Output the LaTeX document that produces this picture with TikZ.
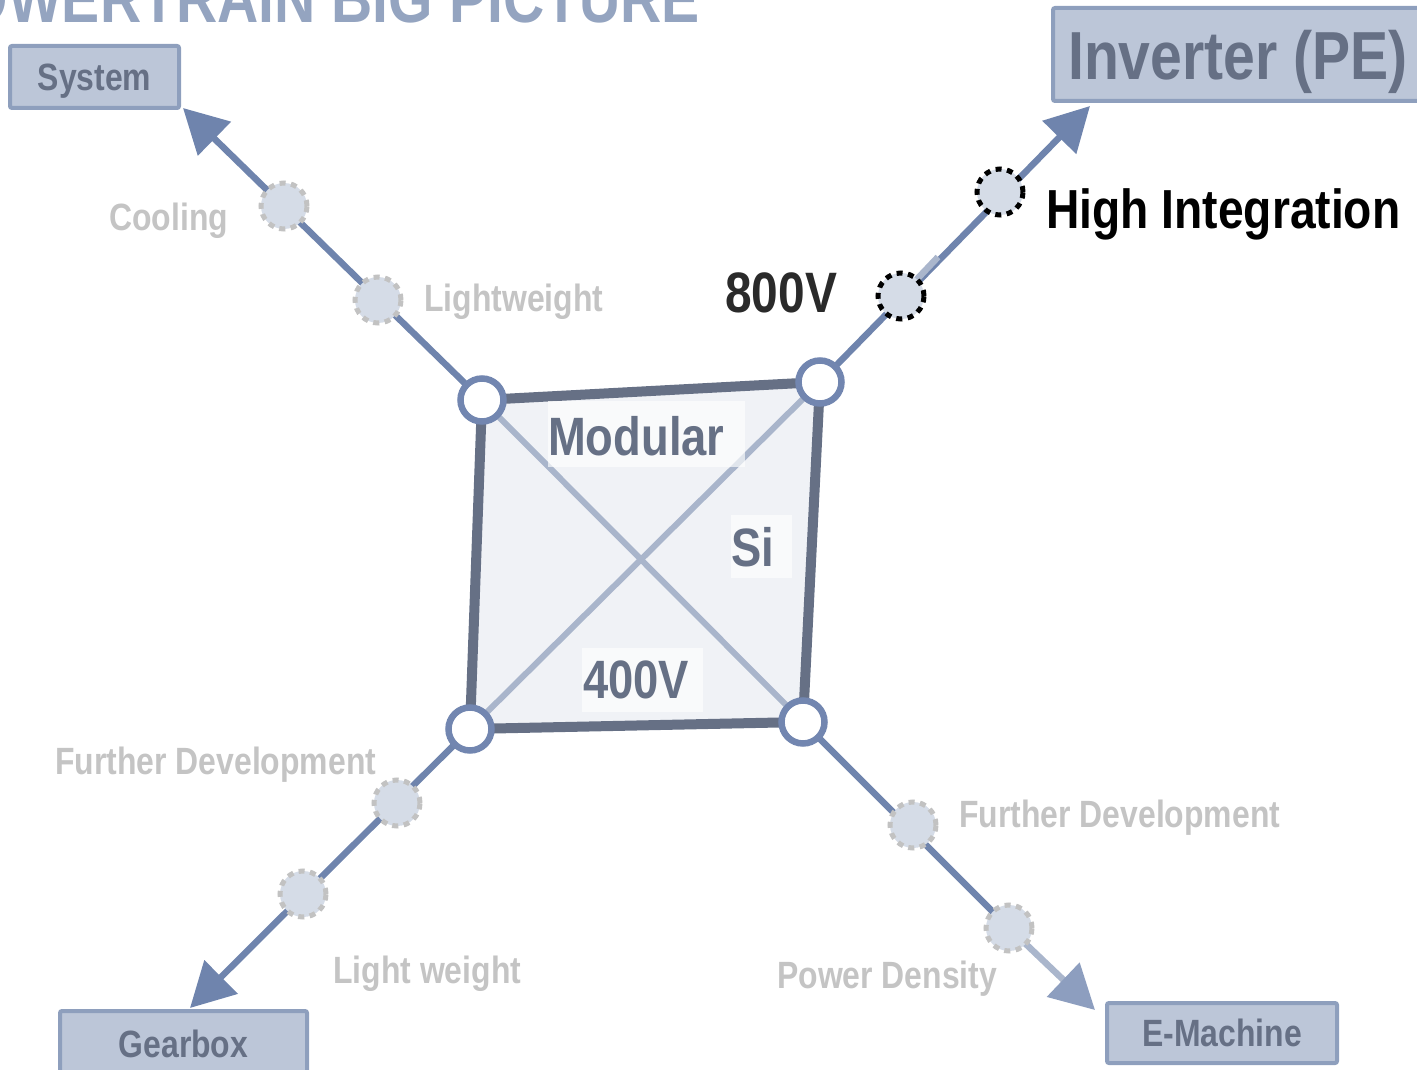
\documentclass[tikz,border=0pt]{standalone}
\usepackage{fontspec}
\setmainfont{Liberation Sans}[FakeStretch=0.84]
\usetikzlibrary{arrows.meta}
\definecolor{slate}{HTML}{667085}
\definecolor{armc}{HTML}{6F84AD}
\definecolor{ringc}{HTML}{7286B0}
\definecolor{boxfill}{HTML}{BCC6D8}
\definecolor{boxline}{HTML}{8E9FBD}
\definecolor{titlec}{HTML}{94A4C0}
\definecolor{dotfill}{HTML}{D5DCE7}
\definecolor{dashc}{HTML}{C2C2C2}
\definecolor{labc}{HTML}{C4C4C4}
\definecolor{diagc}{HTML}{A9B5CB}
\definecolor{sqfill}{HTML}{F0F2F6}
\definecolor{lightarm}{HTML}{AAB6CC}
\definecolor{midarm}{HTML}{8D9EBF}
\definecolor{darktxt}{HTML}{2A2A2A}
\begin{document}
\begin{tikzpicture}[x=1pt,y=-1pt,
  txt/.style={inner sep=0pt,anchor=base west,font=\bfseries\fontsize{#1}{#1}\selectfont},
  arm/.style={draw=armc,line width=6.5pt},
  tipstyle/.style={-{Triangle[length=44pt,width=46pt]}},
  corner/.style={circle,draw=ringc,line width=6.5pt,fill=white,minimum size=43pt,inner sep=0pt},
  dashdot/.style={circle,draw=dashc,line width=5pt,fill=dotfill,minimum size=46pt,inner sep=0pt,dash pattern=on 6pt off 5.5pt},
  blackdot/.style={circle,draw=black,line width=5pt,fill=dotfill,minimum size=46pt,inner sep=0pt,dash pattern=on 6pt off 5.5pt},
  tbox/.style={draw=boxline,line width=4pt,fill=boxfill,rounded corners=2pt,inner sep=0pt,text=slate,text depth=0pt,font=\bfseries\fontsize{38}{38}\selectfont},
  lab/.style={txt=38,text=labc},
  inlab/.style={txt=54,text=slate}
]
\useasboundingbox (0,0) rectangle (1417,1070);
\clip (0,0) rectangle (1417,1070);

% title (clipped)
\node[inner sep=0pt,anchor=base east,text=titlec,font=\bfseries\fontsize{68}{68}\selectfont] (title) at (700,23) {POWERTRAIN BIG PICTURE};

% boxes
\node[tbox,minimum width=169pt,minimum height=62pt] (system) at (94.5,77) {System};
\node[tbox,minimum width=370pt,minimum height=93pt,font=\bfseries\fontsize{68}{68}\selectfont] (inverter) at (1238,54.5) {Inverter (PE)};
\node[tbox,minimum width=247pt,minimum height=66pt] (gearbox) at (183.5,1044) {Gearbox};
\node[tbox,minimum width=230pt,minimum height=60pt] (emachine) at (1222,1033) {E-Machine};

% corner coordinates
\coordinate (ctl) at (482,400);
\coordinate (ctr) at (820,382);
\coordinate (cbr) at (803,722);
\coordinate (cbl) at (470,729);

% arrow tips
\coordinate (systip) at (183,108);
\coordinate (invtip) at (1090,106);
\coordinate (geartip) at (190,1008);
\coordinate (emtip) at (1095,1010);
\coordinate (lightend) at (938,257);

% arms
\draw[arm,tipstyle] (ctl) -- (systip);
\draw[arm,tipstyle] (ctr) -- (invtip);
\draw[arm,tipstyle] (cbl) -- (geartip);
\coordinate (d8c) at (1009,928);
\draw[arm] (cbr) -- (d8c);
\draw[draw=lightarm,line width=6.5pt,-{Triangle[length=44pt,width=46pt,color=midarm]}] (d8c) -- (emtip);
\draw[draw=lightarm,line width=6.5pt] (901,296) -- (lightend);

% square
\draw[draw=slate,line width=10pt,fill=sqfill,line join=miter] (ctl) -- (ctr) -- (cbr) -- (cbl) -- cycle;
\draw[draw=diagc,line width=6pt] (ctl) -- (cbr);
\draw[draw=diagc,line width=6pt] (cbl) -- (ctr);

% label backgrounds
\fill[white,opacity=0.65] (548,401) rectangle (745,467);
\fill[white,opacity=0.65] (731,515) rectangle (792,578);
\fill[white,opacity=0.65] (582,648) rectangle (703,712);

% corner nodes
\node[corner] (tl) at (ctl) {};
\node[corner] (tr) at (ctr) {};
\node[corner] (br) at (cbr) {};
\node[corner] (bl) at (cbl) {};

% milestone circles
\node[dashdot] (d1) at (284,206) {};
\node[dashdot] (d2) at (378,300) {};
\node[blackdot] (d3) at (901,296) {};
\node[blackdot] (d4) at (1000,192) {};
\node[dashdot] (d5) at (397,803) {};
\node[dashdot] (d6) at (303,894) {};
\node[dashdot] (d7) at (913,825) {};
\node[dashdot] (d8) at (d8c) {};

% labels
\node[lab] (lcool) at (109,230) {Cooling};
\node[lab] (llight) at (424,311) {Lightweight};
\node[lab] (lfdl) at (55,774) {Further Development};
\node[lab] (llw) at (333,983) {Light weight};
\node[lab] (lpd) at (777,988) {Power Density};
\node[lab] (lfdr) at (959,827) {Further Development};
\node[txt=57,text=darktxt] (l800) at (725,312) {800V};
\node[txt=55,text=black] (lhi) at (1046,229) {High Integration};
\node[inlab] (lmod) at (548,455) {Modular};
\node[inlab] (lsi) at (731,566) {Si};
\node[inlab] (l400) at (583,698) {400V};
\end{tikzpicture}
\end{document}
